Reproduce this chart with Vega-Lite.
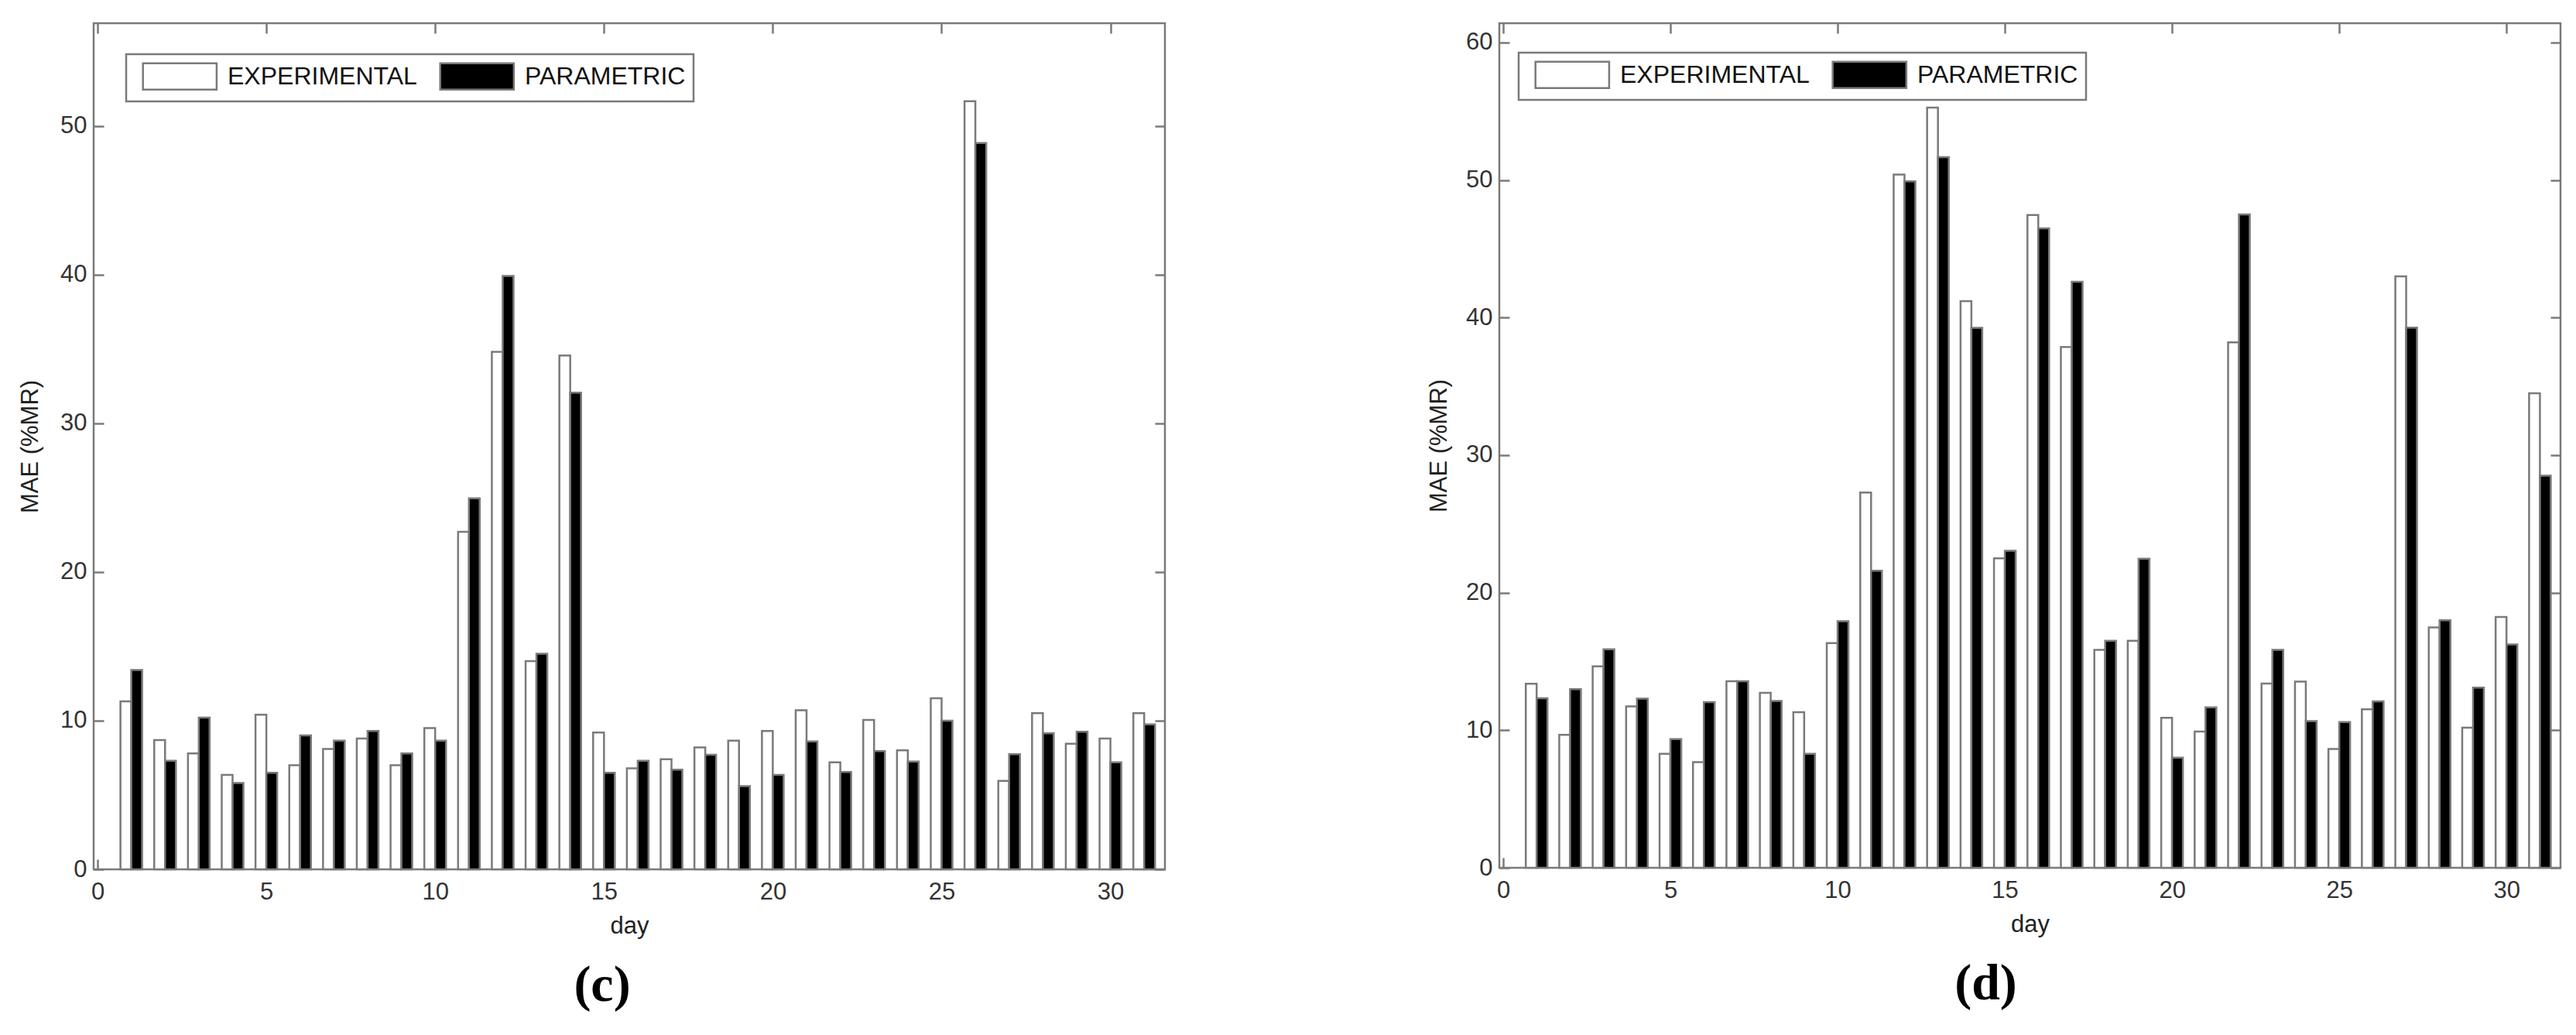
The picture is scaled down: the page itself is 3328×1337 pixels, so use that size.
{
  "$schema": "https://vega.github.io/schema/vega-lite/v6.json",
  "background": "white",
  "padding": {"left": 22, "top": 27, "right": 5, "bottom": 5},
  "datasets": {
    "c": [
      {"day": 1, "series": "EXPERIMENTAL", "mae": 11.3}, {"day": 1, "series": "PARAMETRIC", "mae": 13.4},
      {"day": 2, "series": "EXPERIMENTAL", "mae": 8.7}, {"day": 2, "series": "PARAMETRIC", "mae": 7.3},
      {"day": 3, "series": "EXPERIMENTAL", "mae": 7.8}, {"day": 3, "series": "PARAMETRIC", "mae": 10.2},
      {"day": 4, "series": "EXPERIMENTAL", "mae": 6.35}, {"day": 4, "series": "PARAMETRIC", "mae": 5.8},
      {"day": 5, "series": "EXPERIMENTAL", "mae": 10.4}, {"day": 5, "series": "PARAMETRIC", "mae": 6.5},
      {"day": 6, "series": "EXPERIMENTAL", "mae": 7.0}, {"day": 6, "series": "PARAMETRIC", "mae": 9.0},
      {"day": 7, "series": "EXPERIMENTAL", "mae": 8.1}, {"day": 7, "series": "PARAMETRIC", "mae": 8.65},
      {"day": 8, "series": "EXPERIMENTAL", "mae": 8.8}, {"day": 8, "series": "PARAMETRIC", "mae": 9.3},
      {"day": 9, "series": "EXPERIMENTAL", "mae": 7.0}, {"day": 9, "series": "PARAMETRIC", "mae": 7.8},
      {"day": 10, "series": "EXPERIMENTAL", "mae": 9.5}, {"day": 10, "series": "PARAMETRIC", "mae": 8.65},
      {"day": 11, "series": "EXPERIMENTAL", "mae": 22.7}, {"day": 11, "series": "PARAMETRIC", "mae": 24.95},
      {"day": 12, "series": "EXPERIMENTAL", "mae": 34.8}, {"day": 12, "series": "PARAMETRIC", "mae": 39.9},
      {"day": 13, "series": "EXPERIMENTAL", "mae": 14.0}, {"day": 13, "series": "PARAMETRIC", "mae": 14.5},
      {"day": 14, "series": "EXPERIMENTAL", "mae": 34.55}, {"day": 14, "series": "PARAMETRIC", "mae": 32.05},
      {"day": 15, "series": "EXPERIMENTAL", "mae": 9.2}, {"day": 15, "series": "PARAMETRIC", "mae": 6.5},
      {"day": 16, "series": "EXPERIMENTAL", "mae": 6.8}, {"day": 16, "series": "PARAMETRIC", "mae": 7.3},
      {"day": 17, "series": "EXPERIMENTAL", "mae": 7.4}, {"day": 17, "series": "PARAMETRIC", "mae": 6.7},
      {"day": 18, "series": "EXPERIMENTAL", "mae": 8.2}, {"day": 18, "series": "PARAMETRIC", "mae": 7.7},
      {"day": 19, "series": "EXPERIMENTAL", "mae": 8.65}, {"day": 19, "series": "PARAMETRIC", "mae": 5.6},
      {"day": 20, "series": "EXPERIMENTAL", "mae": 9.3}, {"day": 20, "series": "PARAMETRIC", "mae": 6.35},
      {"day": 21, "series": "EXPERIMENTAL", "mae": 10.7}, {"day": 21, "series": "PARAMETRIC", "mae": 8.6},
      {"day": 22, "series": "EXPERIMENTAL", "mae": 7.2}, {"day": 22, "series": "PARAMETRIC", "mae": 6.55},
      {"day": 23, "series": "EXPERIMENTAL", "mae": 10.05}, {"day": 23, "series": "PARAMETRIC", "mae": 7.95},
      {"day": 24, "series": "EXPERIMENTAL", "mae": 8.0}, {"day": 24, "series": "PARAMETRIC", "mae": 7.25},
      {"day": 25, "series": "EXPERIMENTAL", "mae": 11.5}, {"day": 25, "series": "PARAMETRIC", "mae": 10.0},
      {"day": 26, "series": "EXPERIMENTAL", "mae": 51.65}, {"day": 26, "series": "PARAMETRIC", "mae": 48.85},
      {"day": 27, "series": "EXPERIMENTAL", "mae": 5.95}, {"day": 27, "series": "PARAMETRIC", "mae": 7.75},
      {"day": 28, "series": "EXPERIMENTAL", "mae": 10.5}, {"day": 28, "series": "PARAMETRIC", "mae": 9.15},
      {"day": 29, "series": "EXPERIMENTAL", "mae": 8.45}, {"day": 29, "series": "PARAMETRIC", "mae": 9.25},
      {"day": 30, "series": "EXPERIMENTAL", "mae": 8.8}, {"day": 30, "series": "PARAMETRIC", "mae": 7.2},
      {"day": 31, "series": "EXPERIMENTAL", "mae": 10.5}, {"day": 31, "series": "PARAMETRIC", "mae": 9.75}
    ],
    "d": [
      {"day": 1, "series": "EXPERIMENTAL", "mae": 13.38}, {"day": 1, "series": "PARAMETRIC", "mae": 12.32},
      {"day": 2, "series": "EXPERIMENTAL", "mae": 9.67}, {"day": 2, "series": "PARAMETRIC", "mae": 12.98},
      {"day": 3, "series": "EXPERIMENTAL", "mae": 14.65}, {"day": 3, "series": "PARAMETRIC", "mae": 15.89},
      {"day": 4, "series": "EXPERIMENTAL", "mae": 11.74}, {"day": 4, "series": "PARAMETRIC", "mae": 12.29},
      {"day": 5, "series": "EXPERIMENTAL", "mae": 8.29}, {"day": 5, "series": "PARAMETRIC", "mae": 9.35},
      {"day": 6, "series": "EXPERIMENTAL", "mae": 7.68}, {"day": 6, "series": "PARAMETRIC", "mae": 12.05},
      {"day": 7, "series": "EXPERIMENTAL", "mae": 13.56}, {"day": 7, "series": "PARAMETRIC", "mae": 13.56},
      {"day": 8, "series": "EXPERIMENTAL", "mae": 12.72}, {"day": 8, "series": "PARAMETRIC", "mae": 12.13},
      {"day": 9, "series": "EXPERIMENTAL", "mae": 11.31}, {"day": 9, "series": "PARAMETRIC", "mae": 8.29},
      {"day": 10, "series": "EXPERIMENTAL", "mae": 16.34}, {"day": 10, "series": "PARAMETRIC", "mae": 17.93},
      {"day": 11, "series": "EXPERIMENTAL", "mae": 27.28}, {"day": 11, "series": "PARAMETRIC", "mae": 21.59},
      {"day": 12, "series": "EXPERIMENTAL", "mae": 50.4}, {"day": 12, "series": "PARAMETRIC", "mae": 49.9},
      {"day": 13, "series": "EXPERIMENTAL", "mae": 55.27}, {"day": 13, "series": "PARAMETRIC", "mae": 51.67},
      {"day": 14, "series": "EXPERIMENTAL", "mae": 41.2}, {"day": 14, "series": "PARAMETRIC", "mae": 39.26},
      {"day": 15, "series": "EXPERIMENTAL", "mae": 22.5}, {"day": 15, "series": "PARAMETRIC", "mae": 23.05},
      {"day": 16, "series": "EXPERIMENTAL", "mae": 47.46}, {"day": 16, "series": "PARAMETRIC", "mae": 46.49},
      {"day": 17, "series": "EXPERIMENTAL", "mae": 37.86}, {"day": 17, "series": "PARAMETRIC", "mae": 42.6},
      {"day": 18, "series": "EXPERIMENTAL", "mae": 15.84}, {"day": 18, "series": "PARAMETRIC", "mae": 16.5},
      {"day": 19, "series": "EXPERIMENTAL", "mae": 16.5}, {"day": 19, "series": "PARAMETRIC", "mae": 22.47},
      {"day": 20, "series": "EXPERIMENTAL", "mae": 10.9}, {"day": 20, "series": "PARAMETRIC", "mae": 8.0},
      {"day": 21, "series": "EXPERIMENTAL", "mae": 9.9}, {"day": 21, "series": "PARAMETRIC", "mae": 11.67},
      {"day": 22, "series": "EXPERIMENTAL", "mae": 38.2}, {"day": 22, "series": "PARAMETRIC", "mae": 47.5},
      {"day": 23, "series": "EXPERIMENTAL", "mae": 13.4}, {"day": 23, "series": "PARAMETRIC", "mae": 15.84},
      {"day": 24, "series": "EXPERIMENTAL", "mae": 13.54}, {"day": 24, "series": "PARAMETRIC", "mae": 10.66},
      {"day": 25, "series": "EXPERIMENTAL", "mae": 8.64}, {"day": 25, "series": "PARAMETRIC", "mae": 10.6},
      {"day": 26, "series": "EXPERIMENTAL", "mae": 11.52}, {"day": 26, "series": "PARAMETRIC", "mae": 12.1},
      {"day": 27, "series": "EXPERIMENTAL", "mae": 43.0}, {"day": 27, "series": "PARAMETRIC", "mae": 39.27},
      {"day": 28, "series": "EXPERIMENTAL", "mae": 17.47}, {"day": 28, "series": "PARAMETRIC", "mae": 18.0},
      {"day": 29, "series": "EXPERIMENTAL", "mae": 10.18}, {"day": 29, "series": "PARAMETRIC", "mae": 13.1},
      {"day": 30, "series": "EXPERIMENTAL", "mae": 18.24}, {"day": 30, "series": "PARAMETRIC", "mae": 16.23},
      {"day": 31, "series": "EXPERIMENTAL", "mae": 34.5}, {"day": 31, "series": "PARAMETRIC", "mae": 28.5}
    ]
  },
  "spacing": 334,
  "hconcat": [
    {
      "width": 1384,
      "height": 1093,
      "data": {"name": "c"},
      "title": {"text": "(c)", "orient": "bottom", "anchor": "middle", "font": "Liberation Serif", "fontWeight": "bold", "fontSize": 66, "dx": -35, "offset": 30, "color": "#000000"},
      "layer": [
        {
          "transform": [{"filter": "datum.series === 'EXPERIMENTAL'"}],
          "mark": {"type": "bar", "orient": "vertical", "size": 14, "xOffset": -7, "stroke": "#7a7a7a", "strokeWidth": 2.5},
          "encoding": {
            "x": {"field": "day", "type": "quantitative", "scale": {"domain": [0, 31.5], "nice": false, "zero": false},
                  "axis": {"orient": "bottom", "values": [0, 5, 10, 15, 20, 25, 30], "format": "d", "title": "day", "tickSize": -13, "labelPadding": 27, "titlePadding": 14}},
            "y": {"field": "mae", "type": "quantitative", "scale": {"domain": [0, 56.9], "nice": false},
                  "axis": {"orient": "left", "values": [0, 10, 20, 30, 40, 50], "title": "MAE (%MR)", "tickSize": -13, "labelPadding": 22, "titlePadding": 22}},
            "fill": {"field": "series", "type": "nominal", "scale": {"domain": ["EXPERIMENTAL", "PARAMETRIC"], "range": ["#ffffff", "#000000"]},
                     "legend": {"orient": "none", "legendX": 42, "legendY": 40, "direction": "horizontal", "title": null}}
          }
        },
        {
          "transform": [{"filter": "datum.series === 'PARAMETRIC'"}],
          "mark": {"type": "bar", "orient": "vertical", "size": 14, "xOffset": 7, "stroke": "#7a7a7a", "strokeWidth": 2.5},
          "encoding": {
            "x": {"field": "day", "type": "quantitative", "scale": {"domain": [0, 31.5], "nice": false, "zero": false},
                  "axis": {"orient": "top", "values": [0, 5, 10, 15, 20, 25, 30], "labels": false, "title": null, "tickSize": -13}},
            "y": {"field": "mae", "type": "quantitative", "scale": {"domain": [0, 56.9], "nice": false},
                  "axis": {"orient": "right", "values": [0, 10, 20, 30, 40, 50], "labels": false, "title": null, "tickSize": -13}},
            "fill": {"field": "series", "type": "nominal", "scale": {"domain": ["EXPERIMENTAL", "PARAMETRIC"], "range": ["#ffffff", "#000000"]},
                     "legend": {"orient": "none", "legendX": 42, "legendY": 40, "direction": "horizontal", "title": null}}
          }
        }
      ]
    },
    {
      "width": 1371,
      "height": 1091,
      "data": {"name": "d"},
      "title": {"text": "(d)", "orient": "bottom", "anchor": "middle", "font": "Liberation Serif", "fontWeight": "bold", "fontSize": 66, "dx": -57, "offset": 30, "color": "#000000"},
      "layer": [
        {
          "transform": [{"filter": "datum.series === 'EXPERIMENTAL'"}],
          "mark": {"type": "bar", "orient": "vertical", "size": 14, "xOffset": -7, "stroke": "#7a7a7a", "strokeWidth": 2.5},
          "encoding": {
            "x": {"field": "day", "type": "quantitative", "scale": {"domain": [0, 31.5], "nice": false, "zero": false},
                  "axis": {"orient": "bottom", "values": [0, 5, 10, 15, 20, 25, 30], "format": "d", "title": "day", "tickSize": -13, "labelPadding": 27, "titlePadding": 14}},
            "y": {"field": "mae", "type": "quantitative", "scale": {"domain": [0, 61.4], "nice": false},
                  "axis": {"orient": "left", "values": [0, 10, 20, 30, 40, 50, 60], "title": "MAE (%MR)", "tickSize": -13, "labelPadding": 22, "titlePadding": 18}},
            "fill": {"field": "series", "type": "nominal", "scale": {"domain": ["EXPERIMENTAL", "PARAMETRIC"], "range": ["#ffffff", "#000000"]},
                     "legend": {"orient": "none", "legendX": 25, "legendY": 38, "direction": "horizontal", "title": null}}
          }
        },
        {
          "transform": [{"filter": "datum.series === 'PARAMETRIC'"}],
          "mark": {"type": "bar", "orient": "vertical", "size": 14, "xOffset": 7, "stroke": "#7a7a7a", "strokeWidth": 2.5},
          "encoding": {
            "x": {"field": "day", "type": "quantitative", "scale": {"domain": [0, 31.5], "nice": false, "zero": false},
                  "axis": {"orient": "top", "values": [0, 5, 10, 15, 20, 25, 30], "labels": false, "title": null, "tickSize": -13}},
            "y": {"field": "mae", "type": "quantitative", "scale": {"domain": [0, 61.4], "nice": false},
                  "axis": {"orient": "right", "values": [0, 10, 20, 30, 40, 50, 60], "labels": false, "title": null, "tickSize": -13}},
            "fill": {"field": "series", "type": "nominal", "scale": {"domain": ["EXPERIMENTAL", "PARAMETRIC"], "range": ["#ffffff", "#000000"]},
                     "legend": {"orient": "none", "legendX": 25, "legendY": 38, "direction": "horizontal", "title": null}}
          }
        }
      ]
    }
  ],
  "resolve": {"scale": {"fill": "independent", "x": "independent", "y": "independent"}, "legend": {"fill": "independent"}},
  "config": {
    "view": {"stroke": "#7a7a7a", "strokeWidth": 2.5},
    "axis": {"domain": false, "grid": false, "tickColor": "#7a7a7a", "tickWidth": 2.5,
             "labelFont": "Liberation Sans", "labelFontSize": 31, "labelColor": "#333333",
             "titleFont": "Liberation Sans", "titleFontSize": 31, "titleFontWeight": "normal", "titleColor": "#222222"},
    "legend": {"symbolType": "M-0.4,-1H5.2V1H-0.4Z", "symbolSize": 1156, "symbolStrokeColor": "#7a7a7a", "symbolStrokeWidth": 2.5,
               "labelFont": "Liberation Sans", "labelFontSize": 32, "labelColor": "#111111", "labelOffset": 84, "labelLimit": 400,
               "columnPadding": 18, "padding": 10, "strokeColor": "#7a7a7a", "strokeWidth": 2.5, "fillColor": "#ffffff"}
  }
}
